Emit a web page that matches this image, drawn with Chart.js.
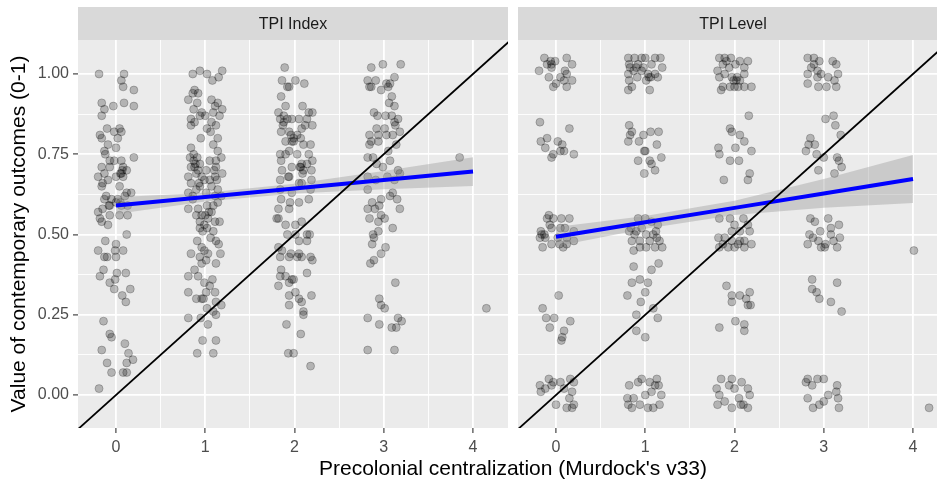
<!DOCTYPE html>
<html lang="en">
<head>
<meta charset="UTF-8">
<title>Precolonial centralization and contemporary outcomes</title>
<style>
    body {
        margin: 0;
        background: #FFFFFF;
        font-family: "Liberation Sans", Arial, sans-serif;
    }
    #figure {
        position: relative;
        width: 937px;
        height: 482px;
        overflow: hidden;
    }
    canvas {
        position: absolute;
        top: 0;
    }
    .strip {
        position: absolute;
        top: 7px;
        height: 33px;
        line-height: 33px;
        text-align: center;
        font-size: 16px;
        color: #1A1A1A;
    }
    .axis-title {
        position: absolute;
        text-align: center;
        font-size: 21px;
        color: #000000;
        white-space: nowrap;
    }
</style>
</head>
<body>
<div id="figure">
    <canvas id="indexChart" width="508" height="482" style="left:0px"></canvas>
    <canvas id="levelChart" width="430" height="482" style="left:518px"></canvas>
    <div class="strip" style="left:78px; width:430px;">TPI Index</div>
    <div class="strip" style="left:518px; width:430px;">TPI Level</div>
    <div class="axis-title" style="left:78px; width:870px; top:455px; height:26px; line-height:26px;">Precolonial centralization (Murdock's v33)</div>
    <div class="axis-title" style="left:-182px; top:221px; width:400px; height:26px; line-height:26px; transform:rotate(-90deg);">Value of contemporary outcomes (0-1)</div>
</div>

<script src="https://cdn.jsdelivr.net/npm/chart.js"></script>
<script>
// axis ticks
const xTicks = [0, 1, 2, 3, 4];
const xMinor = [0.5, 1.5, 2.5, 3.5];
const yTicks = [0, 0.25, 0.5, 0.75, 1];
const yMinor = [0.125, 0.375, 0.625, 0.875];

// jittered observations, TPI Index panel: [centralization, outcome]
const indexPoints = [
    [-0.19,1.00],[0.09,1.00],[0.06,0.98],[0.08,0.96],[0.20,0.95],[-0.16,0.91],[-0.13,0.89],[-0.03,0.90],[0.09,0.91],[0.20,0.90],
    [-0.16,0.87],[-0.10,0.83],[-0.02,0.82],[0.04,0.83],[0.06,0.82],[-0.18,0.81],[-0.16,0.80],[0.02,0.80],[-0.09,0.78],[0.00,0.77],
    [-0.13,0.76],[-0.12,0.75],[0.20,0.74],[-0.07,0.73],[0.06,0.73],[-0.02,0.73],[0.08,0.71],[-0.16,0.71],[-0.07,0.71],[0.12,0.70],
    [-0.20,0.68],[-0.13,0.69],[0.06,0.69],[0.08,0.68],[-0.15,0.66],[-0.09,0.67],[0.00,0.68],[-0.16,0.65],[0.04,0.65],[0.17,0.63],
    [-0.11,0.62],[-0.13,0.61],[-0.05,0.61],[0.02,0.61],[0.10,0.62],[0.12,0.63],[-0.20,0.57],[-0.15,0.58],[-0.07,0.59],[0.00,0.60],
    [0.06,0.59],[0.13,0.59],[-0.18,0.55],[-0.07,0.56],[0.04,0.56],[0.13,0.56],[-0.16,0.54],[-0.09,0.53],[0.12,0.50],[-0.12,0.48],
    [0.00,0.47],[-0.20,0.45],[-0.13,0.43],[-0.01,0.45],[0.08,0.45],[-0.10,0.43],[0.00,0.43],[-0.14,0.39],[0.01,0.38],[0.11,0.38],
    [-0.18,0.37],[-0.01,0.36],[-0.07,0.35],[-0.02,0.33],[0.07,0.31],[0.16,0.33],[0.11,0.29],[-0.14,0.23],[-0.07,0.19],[-0.05,0.18],
    [-0.16,0.14],[0.10,0.16],[0.14,0.13],[0.19,0.11],[-0.10,0.10],[0.12,0.10],[-0.05,0.07],[0.08,0.07],[0.12,0.07],[-0.19,0.02],
    [0.05,0.69],[0.07,0.70],[-0.08,0.59],[0.05,0.60],

    [0.86,1.00],[0.94,1.01],[1.02,1.00],[1.19,1.01],[1.15,0.99],[1.08,0.98],[0.88,0.95],[0.92,0.94],[0.86,0.94],[0.81,0.92],
    [0.91,0.91],[1.07,0.92],[1.14,0.91],[1.11,0.90],[1.19,0.89],[0.87,0.89],[0.96,0.88],[1.00,0.87],[1.09,0.88],[0.94,0.87],
    [0.84,0.86],[0.88,0.85],[0.84,0.84],[1.07,0.85],[1.12,0.84],[1.16,0.87],[1.02,0.83],[1.06,0.82],[0.95,0.80],[1.14,0.80],
    [0.84,0.77],[1.09,0.78],[1.14,0.76],[1.18,0.74],[0.87,0.75],[0.91,0.74],[0.83,0.74],[0.94,0.72],[0.88,0.71],[1.05,0.73],
    [1.12,0.73],[0.84,0.71],[1.01,0.70],[1.12,0.71],[0.90,0.69],[0.96,0.68],[0.81,0.68],[1.11,0.68],[1.19,0.69],[0.99,0.67],
    [1.05,0.67],[0.84,0.66],[0.94,0.65],[1.07,0.65],[0.90,0.64],[0.81,0.63],[1.14,0.64],[1.01,0.63],[0.86,0.62],[1.11,0.62],
    [1.18,0.62],[0.81,0.58],[0.92,0.58],[1.02,0.59],[1.09,0.59],[1.14,0.60],[0.86,0.61],[0.90,0.56],[0.96,0.56],[1.07,0.57],
    [1.03,0.55],[0.94,0.54],[0.99,0.53],[1.11,0.54],[1.16,0.54],[1.09,0.51],[0.94,0.52],[1.06,0.49],[1.12,0.48],[1.15,0.47],
    [0.91,0.48],[0.96,0.46],[0.84,0.44],[0.99,0.45],[1.03,0.44],[1.17,0.44],[0.94,0.43],[1.01,0.42],[1.12,0.41],[0.96,0.41],
    [0.88,0.39],[0.81,0.37],[0.92,0.37],[1.08,0.36],[0.99,0.35],[1.05,0.34],[0.81,0.32],[0.90,0.30],[0.96,0.30],[1.01,0.32],
    [1.11,0.32],[1.18,0.28],[0.98,0.30],[1.12,0.29],[1.02,0.27],[1.09,0.26],[1.12,0.25],[0.81,0.24],[0.95,0.24],[1.03,0.22],
    [0.97,0.17],[1.12,0.17],[0.91,0.13],[1.09,0.13],
    [0.89,0.72],[0.92,0.70],[1.10,0.70],[1.13,0.67],[0.93,0.66],[0.87,0.73],[1.04,0.57],[1.00,0.56],[1.02,0.52],[0.97,0.51],

    [1.89,1.02],[1.86,0.98],[2.01,0.98],[2.11,0.97],[1.92,0.96],[1.94,0.96],[1.85,0.93],[2.09,0.90],[1.90,0.90],[1.82,0.88],
    [1.88,0.87],[2.16,0.88],[2.20,0.88],[1.97,0.86],[1.84,0.86],[1.92,0.86],[2.05,0.86],[2.14,0.86],[1.87,0.84],[2.12,0.84],
    [2.20,0.84],[2.08,0.83],[1.85,0.82],[1.94,0.82],[2.03,0.81],[1.97,0.79],[1.90,0.79],[1.99,0.79],[2.07,0.80],[2.10,0.78],
    [2.18,0.78],[1.90,0.75],[1.94,0.76],[1.84,0.75],[2.03,0.75],[2.16,0.75],[1.85,0.73],[2.08,0.72],[2.14,0.72],[2.20,0.73],
    [2.07,0.71],[2.10,0.70],[1.97,0.71],[1.86,0.70],[2.19,0.70],[1.93,0.68],[1.84,0.67],[1.94,0.68],[2.05,0.66],[2.08,0.66],
    [2.19,0.67],[1.84,0.64],[1.97,0.63],[2.18,0.64],[1.85,0.61],[2.05,0.60],[1.95,0.60],[2.16,0.61],[1.82,0.58],[1.94,0.58],
    [1.82,0.55],[1.80,0.55],[1.90,0.53],[2.08,0.54],[2.01,0.53],[1.92,0.50],[2.01,0.50],[2.14,0.50],[2.17,0.50],[2.05,0.48],
    [2.14,0.48],[1.82,0.46],[1.86,0.45],[1.84,0.43],[1.96,0.44],[2.05,0.44],[2.08,0.43],[1.94,0.43],[2.03,0.43],[2.18,0.43],
    [2.20,0.42],[1.85,0.39],[1.90,0.37],[2.14,0.38],[1.99,0.36],[1.94,0.35],[1.84,0.37],[1.97,0.36],[1.82,0.34],[2.01,0.32],
    [2.19,0.31],[1.94,0.31],[2.05,0.30],[2.08,0.29],[2.10,0.26],[1.94,0.28],[2.10,0.25],[1.91,0.22],[2.07,0.19],[1.93,0.13],
    [1.99,0.13],[2.18,0.09],
    [1.96,0.81],[1.99,0.80],[2.06,0.71],[2.09,0.69],[1.88,0.85],

    [2.86,1.02],[2.99,1.03],[3.19,1.03],[3.12,0.99],[2.82,0.98],[2.91,0.98],[2.84,0.96],[2.86,0.96],[3.03,0.97],[2.97,0.95],
    [3.05,0.96],[3.07,0.97],[3.09,0.93],[3.06,0.91],[3.12,0.90],[2.89,0.88],[2.93,0.87],[3.02,0.87],[3.09,0.87],[3.16,0.86],
    [3.12,0.85],[2.92,0.83],[3.01,0.83],[3.13,0.84],[2.84,0.81],[2.94,0.81],[3.03,0.81],[3.10,0.81],[3.18,0.82],[2.86,0.79],
    [2.84,0.78],[2.94,0.79],[3.14,0.78],[3.05,0.76],[2.82,0.74],[2.88,0.74],[2.92,0.72],[2.99,0.71],[3.07,0.73],[3.16,0.70],
    [2.82,0.68],[2.91,0.67],[3.04,0.68],[3.18,0.69],[3.12,0.67],[2.82,0.64],[3.10,0.63],[3.07,0.62],[3.15,0.61],[2.87,0.60],
    [2.97,0.61],[2.82,0.58],[2.90,0.58],[2.95,0.59],[3.18,0.58],[2.97,0.56],[2.84,0.55],[3.01,0.55],[2.94,0.54],[3.10,0.52],
    [2.94,0.51],[2.89,0.49],[2.88,0.50],[2.87,0.47],[3.02,0.46],[2.97,0.44],[2.89,0.42],[2.85,0.41],[3.13,0.35],[2.95,0.30],
    [2.97,0.28],[3.01,0.27],[2.82,0.24],[3.16,0.24],[2.95,0.22],[3.09,0.21],[3.14,0.21],[3.20,0.23],[2.82,0.14],[3.12,0.14],

    [3.85,0.74],[4.15,0.27]
];

// jittered observations, TPI Level panel
const levelPoints = [
    [-0.13,1.05],[-0.06,1.04],[-0.01,1.04],[0.12,1.05],[-0.10,1.03],[-0.05,1.02],[-0.19,1.01],[0.10,1.01],[0.18,1.03],[0.12,1.00],
    [0.05,0.99],[0.09,0.98],[0.18,0.98],[-0.08,0.99],[-0.03,0.96],[0.12,0.96],[0.00,0.97],[-0.05,1.03],
    [-0.18,0.85],[0.15,0.83],[-0.10,0.80],[-0.17,0.79],[-0.12,0.77],[0.02,0.79],[0.07,0.78],[0.09,0.76],[0.20,0.75],[-0.05,0.74],
    [-0.03,0.75],[0.05,0.76],
    [-0.08,0.56],[-0.10,0.55],[-0.03,0.55],[0.06,0.55],[0.15,0.55],[-0.17,0.51],[-0.13,0.50],[-0.05,0.52],[0.05,0.52],[0.10,0.52],
    [0.20,0.51],[-0.18,0.49],[-0.12,0.49],[0.02,0.49],[0.12,0.49],[0.20,0.48],[-0.15,0.46],[-0.05,0.47],[0.04,0.47],[0.08,0.46],
    [0.12,0.47],[-0.16,0.50],[-0.07,0.53],
    [0.03,0.31],[-0.15,0.27],[-0.11,0.24],[-0.02,0.24],[0.16,0.23],[-0.07,0.21],[0.09,0.20],[0.07,0.18],[0.06,0.17],
    [-0.08,0.05],[-0.03,0.04],[0.05,0.04],[0.16,0.05],[0.20,0.04],[-0.18,0.03],[-0.12,0.02],[-0.05,0.03],[0.09,0.02],[-0.17,0.01],
    [0.18,0.01],[0.15,-0.01],[0.00,-0.03],[0.12,-0.04],[0.18,-0.04],[0.20,-0.03],

    [0.81,1.05],[0.88,1.05],[0.96,1.05],[1.00,1.05],[1.11,1.05],[1.17,1.05],[0.82,1.03],[0.92,1.03],[1.07,1.03],[1.19,1.02],
    [0.81,1.00],[0.87,1.01],[0.96,1.01],[1.03,1.00],[1.11,1.00],[1.14,0.99],[0.82,0.98],[0.91,0.99],[1.01,0.98],[1.06,0.99],
    [0.81,0.95],[0.85,0.96],[1.05,0.95],[0.98,1.02],[0.90,1.02],[0.83,1.02],[1.04,0.99],
    [0.82,0.84],[0.85,0.82],[0.83,0.81],[0.98,0.81],[1.06,0.82],[1.15,0.82],[0.81,0.79],[0.93,0.79],[1.13,0.78],[0.99,0.76],
    [1.00,0.76],[0.92,0.73],[1.18,0.74],[1.05,0.73],[1.07,0.72],[1.11,0.70],[0.99,0.69],
    [0.92,0.55],[1.00,0.55],[1.07,0.54],[0.84,0.52],[0.96,0.52],[1.14,0.53],[0.82,0.51],[0.88,0.50],[1.01,0.50],[1.09,0.50],
    [1.13,0.49],[0.85,0.48],[0.94,0.48],[1.05,0.48],[1.16,0.48],[1.19,0.46],[0.87,0.45],[0.94,0.46],[1.01,0.46],[1.11,0.46],
    [1.12,0.51],[0.90,0.51],
    [0.87,0.40],[1.07,0.39],[1.15,0.41],[0.94,0.36],[1.03,0.35],[0.85,0.35],[0.80,0.31],[1.00,0.32],[0.95,0.29],[1.09,0.27],
    [0.90,0.25],[1.14,0.24],[0.90,0.20],[1.00,0.18],
    [0.82,0.03],[0.92,0.04],[0.96,0.05],[1.05,0.04],[1.13,0.05],[1.15,0.03],[1.11,0.03],[0.80,-0.01],[0.87,-0.01],[1.00,0.00],
    [1.07,0.01],[1.18,0.00],[1.16,-0.03],[0.85,-0.04],[0.94,-0.03],[1.03,-0.04],[1.09,-0.04],[0.81,-0.03],

    [1.83,1.05],[1.96,1.05],[2.06,1.04],[2.15,1.04],[1.87,1.03],[1.94,1.02],[2.01,1.03],[2.11,1.02],[1.81,1.01],[1.89,1.00],
    [2.11,1.00],[1.97,0.99],[2.02,0.98],[2.06,0.98],[1.83,0.99],[1.87,0.96],[1.95,0.96],[2.04,0.96],[2.11,0.96],[2.19,0.96],
    [1.85,0.95],[2.00,0.96],[1.91,1.04],[1.89,1.05],[1.99,0.98],[2.03,0.99],
    [2.16,0.87],[1.95,0.83],[1.97,0.82],[2.06,0.81],[2.11,0.79],[1.82,0.77],[1.83,0.75],[2.01,0.77],[1.95,0.73],[2.05,0.73],
    [2.19,0.76],[2.17,0.69],[2.15,0.67],[1.88,0.67],
    [1.83,0.55],[1.95,0.55],[2.10,0.55],[2.00,0.53],[2.15,0.53],[1.97,0.51],[2.06,0.51],[2.17,0.51],[1.82,0.49],[1.89,0.49],
    [1.97,0.48],[2.11,0.48],[1.83,0.46],[1.93,0.46],[2.04,0.47],[2.11,0.46],[2.19,0.47],[2.00,0.46],[2.06,0.48],[1.87,0.47],
    [1.91,0.34],[1.97,0.31],[2.06,0.31],[2.17,0.32],[1.97,0.29],[2.13,0.30],[2.15,0.28],[2.18,0.28],
    [1.83,0.21],[2.01,0.23],[2.11,0.22],[2.11,0.20],
    [1.85,0.05],[1.97,0.05],[2.08,0.04],[1.94,0.03],[2.00,0.02],[1.80,0.02],[2.15,0.02],[1.83,0.00],[2.17,0.00],[2.05,-0.01],
    [1.81,-0.03],[1.97,-0.04],[2.07,-0.03],[2.10,-0.03],[2.15,-0.04],[1.89,-0.02],

    [2.82,1.05],[2.89,1.05],[2.95,1.04],[3.10,1.04],[3.14,1.03],[2.86,1.02],[2.93,1.01],[2.97,1.00],[3.16,1.00],[2.82,1.00],
    [2.93,0.99],[3.05,0.99],[3.12,0.98],[2.82,0.97],[2.94,0.96],[3.03,0.96],[3.14,0.96],[2.89,1.03],
    [3.02,0.86],[3.11,0.87],[3.13,0.84],[3.19,0.81],[2.85,0.80],[2.83,0.78],[2.90,0.78],[2.80,0.76],[2.92,0.75],[3.00,0.74],
    [3.15,0.74],[3.17,0.73],[3.12,0.69],[2.94,0.70],[3.20,0.71],
    [2.85,0.55],[2.90,0.54],[3.05,0.55],[3.08,0.52],[3.17,0.53],[2.96,0.51],[3.08,0.50],[2.84,0.50],[2.88,0.49],[2.94,0.48],
    [3.02,0.47],[3.11,0.48],[3.18,0.49],[2.82,0.47],[2.97,0.46],[3.01,0.46],[3.15,0.46],
    [2.87,0.36],[2.87,0.33],[2.92,0.32],[2.95,0.30],[3.15,0.35],[3.08,0.29],[3.20,0.26],
    [2.82,0.05],[2.93,0.05],[3.00,0.05],[2.80,0.04],[2.87,0.03],[3.15,0.03],[2.82,-0.01],[3.05,0.00],[3.00,-0.02],[3.16,-0.01],
    [2.95,-0.03],[2.88,-0.04],[3.17,-0.04],[3.14,0.01],

    [4.01,0.45],[4.18,-0.04]
];

// linear fit with 95% band
const fitX = [0, 1, 2, 3, 4];
const indexFit   = [0.590, 0.617, 0.643, 0.670, 0.696];
const indexUpper = [0.616, 0.630, 0.658, 0.698, 0.741];
const indexLower = [0.564, 0.603, 0.628, 0.641, 0.651];
const levelFit   = [0.493, 0.538, 0.583, 0.628, 0.673];
const levelUpper = [0.523, 0.558, 0.605, 0.673, 0.748];
const levelLower = [0.463, 0.518, 0.561, 0.583, 0.598];

// reference line y = x / 4
const refX = [-0.5, 4.5];
const refY = [-0.125, 1.125];

const FONT = '"Liberation Sans", Arial, sans-serif';
const pair = (xs, ys) => xs.map((x, i) => ({ x: x, y: ys[i] }));

// grey panel + strip behind everything
const panelBackground = {
    id: 'panelBackground',
    beforeDraw(chart) {
        const { ctx, chartArea: a } = chart;
        ctx.save();
        ctx.fillStyle = '#EBEBEB';
        ctx.fillRect(a.left, a.top, a.right - a.left, a.bottom - a.top);
        ctx.fillStyle = '#D9D9D9';
        ctx.fillRect(a.left, 7, a.right - a.left, a.top - 7);
        ctx.restore();
    }
};

function gridOptions(majors, showTicks) {
    return {
        color: '#FFFFFF',
        lineWidth: c => majors.includes(c.tick.value) ? 1.8 : 0.9,
        drawTicks: showTicks,
        tickLength: 5,
        tickWidth: 1.1,
        tickColor: c => majors.includes(c.tick.value) ? '#333333' : 'rgba(0,0,0,0)'
    };
}

function makeChart(canvasId, points, fit, upper, lower, showY) {
    return new Chart(document.getElementById(canvasId), {
        type: 'scatter',
        data: {
            datasets: [
                {
                    data: points.map(p => ({ x: p[0], y: p[1] })),
                    pointRadius: 4,
                    pointBackgroundColor: 'rgba(0,0,0,0.24)',
                    pointBorderColor: 'rgba(0,0,0,0.22)',
                    pointBorderWidth: 1,
                    order: 4
                },
                {
                    data: pair(fitX, upper),
                    showLine: true,
                    pointRadius: 0,
                    borderWidth: 0,
                    fill: '+1',
                    backgroundColor: 'rgba(153,153,153,0.4)',
                    order: 3
                },
                {
                    data: pair(fitX, lower),
                    showLine: true,
                    pointRadius: 0,
                    borderWidth: 0,
                    fill: false,
                    order: 3
                },
                {
                    data: pair(fitX, fit),
                    showLine: true,
                    pointRadius: 0,
                    borderColor: '#0000FF',
                    borderWidth: 4,
                    order: 2
                },
                {
                    data: pair(refX, refY),
                    showLine: true,
                    pointRadius: 0,
                    borderColor: '#000000',
                    borderWidth: 1.8,
                    order: 1
                }
            ]
        },
        options: {
            responsive: false,
            animation: false,
            devicePixelRatio: 1,
            events: [],
            layout: { autoPadding: false, padding: { top: 40, right: 0, bottom: 0, left: 0 } },
            plugins: {
                legend: { display: false },
                tooltip: { enabled: false }
            },
            scales: {
                x: {
                    type: 'linear',
                    min: -0.4258,
                    max: 4.392,
                    afterBuildTicks: s => { s.ticks = xTicks.concat(xMinor).map(v => ({ value: v })); },
                    afterFit: s => { s.height = 54; },
                    border: { display: false },
                    grid: gridOptions(xTicks, true),
                    ticks: {
                        autoSkip: false,
                        maxRotation: 0,
                        padding: 5,
                        color: '#4D4D4D',
                        font: { family: FONT, size: 16 },
                        callback: v => xTicks.includes(v) ? String(v) : ''
                    }
                },
                y: {
                    type: 'linear',
                    min: -0.1028,
                    max: 1.1059,
                    afterBuildTicks: s => { s.ticks = yTicks.concat(yMinor).map(v => ({ value: v })); },
                    afterFit: s => { s.width = showY ? 78 : 0; },
                    border: { display: false },
                    grid: gridOptions(yTicks, showY),
                    ticks: {
                        display: showY,
                        autoSkip: false,
                        padding: 4,
                        color: '#4D4D4D',
                        font: { family: FONT, size: 16 },
                        callback: v => yTicks.includes(v) ? v.toFixed(2) : ''
                    }
                }
            }
        },
        plugins: [panelBackground]
    });
}

makeChart('indexChart', indexPoints, indexFit, indexUpper, indexLower, true);
makeChart('levelChart', levelPoints, levelFit, levelUpper, levelLower, false);
</script>
</body>
</html>
